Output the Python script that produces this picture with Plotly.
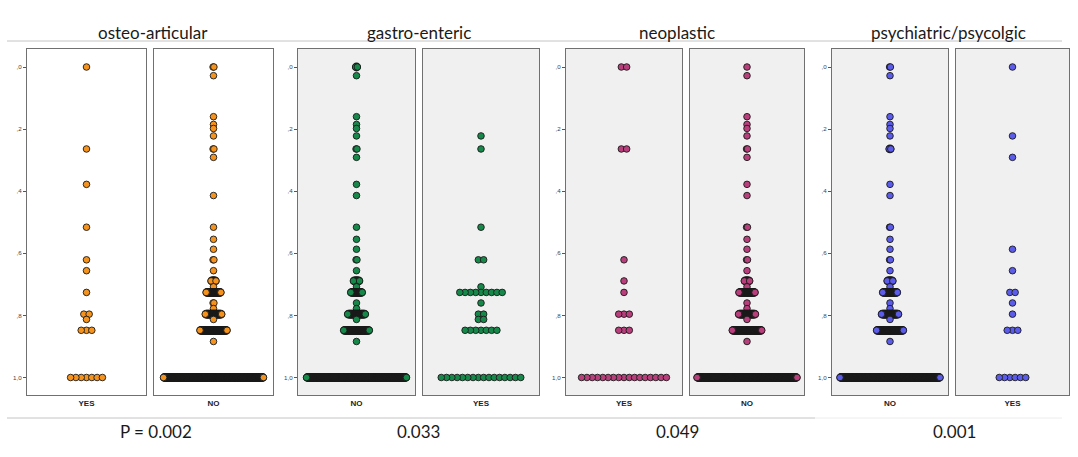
import plotly.graph_objects as go

# ---------------- data ----------------
VALUES = [0.0, 0.028, 0.160, 0.185, 0.198, 0.222, 0.264, 0.291, 0.378, 0.414,
          0.516, 0.555, 0.587, 0.621, 0.656, 0.689, 0.708, 0.726, 0.760, 0.778,
          0.796, 0.813, 0.848, 0.884, 1.0]

osteo_yes  = [1, 0, 0, 0, 0, 0, 1, 0, 1, 0, 1, 0, 0, 1, 1, 0, 0, 1, 0, 0, 2, 1, 3, 0, 7]
osteo_no   = [2, 1, 1, 1, 1, 1, 2, 1, 0, 1, 1, 1, 1, 2, 1, 7, 1, 19, 2, 1, 21, 1, 34, 1, 123]
gastro_no  = [3, 1, 1, 1, 1, 1, 2, 1, 1, 1, 1, 1, 1, 2, 1, 8, 1, 14, 1, 1, 21, 1, 30, 1, 114]
gastro_yes = [0, 0, 0, 0, 0, 1, 1, 0, 0, 0, 1, 0, 0, 2, 0, 0, 1, 9, 1, 0, 2, 2, 7, 0, 16]
neo_yes    = [2, 0, 0, 0, 0, 0, 2, 0, 0, 0, 0, 0, 0, 1, 0, 1, 0, 1, 0, 0, 3, 0, 3, 0, 17]
neo_no     = [1, 1, 1, 1, 1, 1, 2, 1, 1, 1, 2, 1, 1, 2, 1, 7, 1, 19, 1, 1, 20, 1, 34, 1, 113]
psych_no   = [2, 1, 1, 1, 1, 1, 3, 0, 1, 1, 2, 1, 1, 2, 1, 8, 1, 19, 1, 1, 22, 1, 34, 1, 124]
psych_yes  = [1, 0, 0, 0, 0, 1, 0, 1, 0, 0, 0, 0, 1, 0, 1, 0, 0, 2, 1, 0, 1, 0, 3, 0, 6]

GROUP_TITLES = ["osteo-articular", "gastro-enteric", "neoplastic", "psychiatric/psycolgic"]
P_LABELS = ["P = 0.002", "0.033", "0.049", "0.001"]
Y_TICKS = [0.0, 0.2, 0.4, 0.6, 0.8, 1.0]
Y_TICKTEXT = [",0", ",2", ",4", ",6", ",8", "1,0"]

# ---------------- layout helpers ----------------
W, H = 1078, 457
PANEL_TOP, PANEL_BOTTOM = 49, 395
Y0_PIX, Y1_PIX = 67, 377.5           # pixel rows of value 0 and 1
scale = Y1_PIX - Y0_PIX
y_range = [(PANEL_BOTTOM - Y0_PIX) / scale, (PANEL_TOP - Y0_PIX) / scale]

ORANGE, GREEN, MAGENTA, BLUE = "#F6931D", "#16894A", "#B83F7C", "#5C5CEA"
WHITE_BG, GRAY_BG = "#FFFFFF", "#F0F0F0"

# (category label, counts, colour, left px, right px, show y ticks, background)
panels = [
    ("YES", osteo_yes, ORANGE, 27, 146, True, WHITE_BG),
    ("NO", osteo_no, ORANGE, 154, 273, False, WHITE_BG),
    ("NO", gastro_no, GREEN, 298, 415, True, GRAY_BG),
    ("YES", gastro_yes, GREEN, 423, 539, False, GRAY_BG),
    ("YES", neo_yes, MAGENTA, 566, 682, True, GRAY_BG),
    ("NO", neo_no, MAGENTA, 690, 804, False, GRAY_BG),
    ("NO", psych_no, BLUE, 832, 948, True, GRAY_BG),
    ("YES", psych_yes, BLUE, 956, 1069, False, GRAY_BG),
]

BASE_SPACING = 5.3   # px between neighbouring dots
ROW_SPAN = 100.0     # max px span of a row (dots compress beyond this)
EDGE_W, DENSE_W = 0.9, 2.2

fig = go.Figure()
layout = dict(
    width=W, height=H,
    margin=dict(l=0, r=0, t=0, b=0),
    paper_bgcolor="white", plot_bgcolor="white",
    showlegend=False,
    shapes=[], annotations=[],
)

for i, (cat, counts, color, x0, x1, show_y, bg) in enumerate(panels, start=1):
    wpx = x1 - x0
    nmax = max(counts)
    spacing = min(BASE_SPACING, ROW_SPAN / (nmax - 1)) if nmax > 1 else BASE_SPACING
    dense = spacing < 3
    xs, ys, lw = [], [], []
    for v, n in zip(VALUES, counts):
        if n == 0:
            continue
        offs = [(k - (n - 1) / 2) * spacing for k in range(n)]
        offs.sort(key=lambda o: (abs(o), o))  # centre first, ends drawn last
        for j, o in enumerate(offs):
            xs.append(o)
            ys.append(v)
            inner = dense and n > 2 and j < n - 2
            lw.append(DENSE_W if inner else EDGE_W)
    sfx = "" if i == 1 else str(i)
    fig.add_trace(go.Scatter(
        x=xs, y=ys, mode="markers",
        marker=dict(size=6.6, color=color, line=dict(color="#1a1a1a", width=lw)),
        xaxis="x" + sfx, yaxis="y" + sfx, hoverinfo="skip",
    ))
    layout["xaxis" + sfx] = dict(
        domain=[x0 / W, x1 / W], anchor="y" + sfx,
        range=[-wpx / 2, wpx / 2],
        showgrid=False, zeroline=False,
        showline=True, mirror=True, linecolor="#707070", linewidth=1.2,
        tickvals=[0], ticktext=["<b>" + cat + "</b>"], ticks="",
        tickfont=dict(family="Liberation Sans, Arial", size=8, color="#222"),
    )
    layout["yaxis" + sfx] = dict(
        domain=[1 - PANEL_BOTTOM / H, 1 - PANEL_TOP / H], anchor="x" + sfx,
        range=y_range,
        showgrid=False, zeroline=False,
        showline=True, mirror=True, linecolor="#707070", linewidth=1.2,
        tickvals=Y_TICKS, ticktext=Y_TICKTEXT,
        ticks="outside" if show_y else "", ticklen=3, tickcolor="#555",
        showticklabels=show_y,
        tickfont=dict(family="Liberation Sans, Arial", size=6.2, color="#444"),
    )
    layout["shapes"].append(dict(
        type="rect", xref="x" + sfx + " domain", yref="y" + sfx + " domain",
        x0=0, x1=1, y0=0, y1=1, fillcolor=bg, line=dict(width=0), layer="below",
    ))

# group titles and p-values
group_centers = [153, 419, 677, 948]
p_centers = [156, 418, 677, 954]
for t, cx in zip(GROUP_TITLES, group_centers):
    layout["annotations"].append(dict(
        text=t, x=cx / W, y=1 - 32 / H, xref="paper", yref="paper",
        showarrow=False, xanchor="center", yanchor="middle",
        font=dict(family="Lato", size=17, color="#1a1a1a"),
    ))
for t, cx in zip(P_LABELS, p_centers):
    layout["annotations"].append(dict(
        text=t, x=cx / W, y=1 - 431 / H, xref="paper", yref="paper",
        showarrow=False, xanchor="center", yanchor="middle",
        font=dict(family="Lato", size=17, color="#1a1a1a"),
    ))

# separator lines
layout["shapes"].append(dict(type="line", xref="paper", yref="paper",
                             x0=7 / W, x1=1062 / W, y0=1 - 41 / H, y1=1 - 41 / H,
                             line=dict(color="#c4c4c4", width=1)))
layout["shapes"].append(dict(type="line", xref="paper", yref="paper",
                             x0=7 / W, x1=815 / W, y0=1 - 418 / H, y1=1 - 418 / H,
                             line=dict(color="#c4c4c4", width=1)))
layout["shapes"].append(dict(type="line", xref="paper", yref="paper",
                             x0=815 / W, x1=1062 / W, y0=1 - 418 / H, y1=1 - 418 / H,
                             line=dict(color="#ececec", width=1)))

fig.update_layout(**layout)
fig.write_html("out.html", config={"displayModeBar": False},
               post_script="document.body.style.margin='0px';document.body.style.overflow='hidden';")
